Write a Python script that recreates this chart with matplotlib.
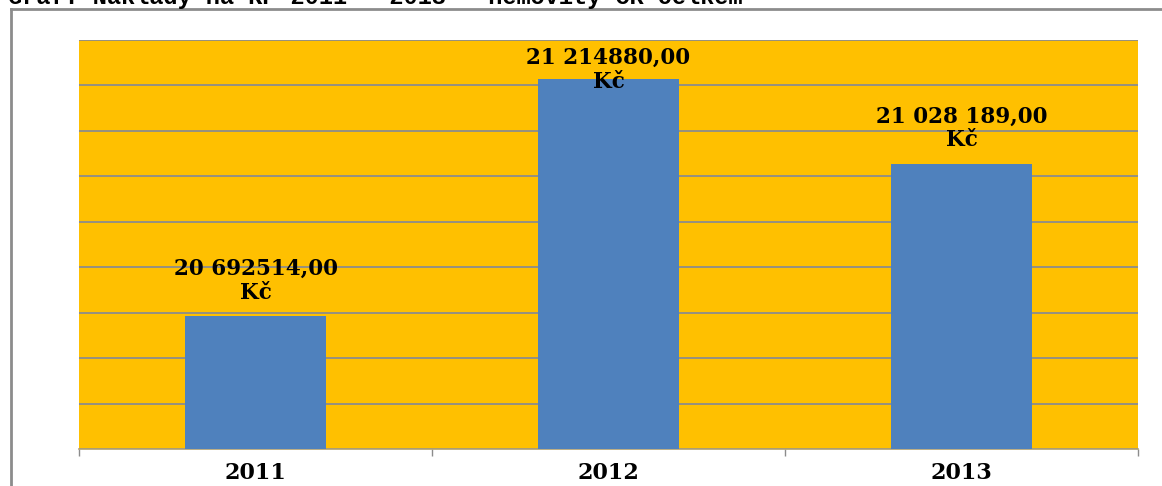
import matplotlib
matplotlib.use("Agg")
import matplotlib.pyplot as plt
from matplotlib.lines import Line2D

GOLD = "#FFC000"
BLUE = "#4F81BD"
GRID = "#8C8C8C"

years = ["2011", "2012", "2013"]
costs = [20692514.00, 21214880.00, 21028189.00]
cost_labels = ["20 692514,00\nKč", "21 214880,00\nKč", "21 028 189,00\nKč"]
title = "Graf: Náklady na KP 2011 – 2013 – nemovitý ČR celkem"

YMIN, YMAX, YSTEP = 20_400_000, 21_300_000, 100_000

fig = plt.figure(figsize=(11.62, 4.86), dpi=100)
ax = fig.add_axes([79 / 1162, 37 / 486, (1138 - 79) / 1162, (449 - 40) / 486])
ax.set_facecolor(GOLD)

x = range(len(years))
bars = ax.bar(x, costs, width=0.4, color=BLUE, zorder=3)

ax.set_xlim(-0.5, len(years) - 0.5)
ax.set_ylim(YMIN, YMAX)
ax.set_yticks(range(YMIN, YMAX + 1, YSTEP))
ax.yaxis.grid(True, color=GRID, linewidth=1.3, zorder=1)
ax.tick_params(axis="y", length=0, labelleft=False)

ax.set_xticks(list(x))
ax.set_xticklabels(years, fontfamily="DejaVu Serif", fontweight="bold", fontsize=16)
ax.tick_params(axis="x", which="major", length=0, pad=9)
ax.set_xticks([i - 0.5 for i in range(len(years) + 1)], minor=True)
ax.tick_params(axis="x", which="minor", length=5, color=GRID, width=1)

for side in ("top", "right", "left"):
    ax.spines[side].set_visible(False)
ax.spines["bottom"].set_color("#B0A070")
ax.spines["bottom"].set_linewidth(1.2)

# labels sit above the bar, pushed down when they would leave the plot
span = YMAX - YMIN
cap = YMAX - 0.16 * span
for b, v, lab in zip(bars, costs, cost_labels):
    y = min(v, cap)
    ax.annotate(lab, (b.get_x() + b.get_width() / 2, y), xytext=(0, 9),
                textcoords="offset points", ha="center", va="bottom",
                fontfamily="DejaVu Serif", fontweight="bold", fontsize=15.5,
                linespacing=1.1, zorder=5)

# outer frame of the chart object, cut by the page
fx = 11 / 1162
fy = 1 - 9 / 486
fig.add_artist(Line2D([fx, fx], [0, fy], color="#8C8C8C", linewidth=2, transform=fig.transFigure))
fig.add_artist(Line2D([fx, 1], [fy, fy], color="#8C8C8C", linewidth=2, transform=fig.transFigure))

fig.text(8 / 1162, 1 - 4 / 486, title, ha="left", va="baseline",
         fontfamily="Liberation Mono", fontweight="bold", fontsize=17)

fig.savefig("out.png", dpi=100)
